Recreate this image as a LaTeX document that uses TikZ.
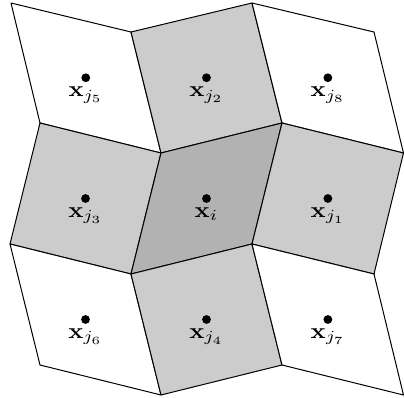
\documentclass[tikz,border=0pt]{standalone}
\usetikzlibrary{calc}
\begin{document}
\begin{tikzpicture}[x=0.5pt,y=-0.5pt,
  cellw/.style={fill=white,draw=black,line width=0.5pt,line join=round},
  cellg/.style={fill=gray!40,draw=black,line width=0.5pt,line join=round},
  celld/.style={fill=gray!60,draw=black,line width=0.5pt,line join=round},
  site/.style={circle,fill=black,inner sep=0pt,minimum size=4.4pt},
  lbl/.style={anchor=base,inner sep=0pt}]
\useasboundingbox (0,0) rectangle (404,398);
% vertices
\coordinate (a0) at (11,3);   \coordinate (a1) at (131,32);  \coordinate (a2) at (252,3);   \coordinate (a3) at (374,32);
\coordinate (b0) at (40,123); \coordinate (b1) at (161,153); \coordinate (b2) at (282,123); \coordinate (b3) at (403.5,153);
\coordinate (c0) at (10,244); \coordinate (c1) at (131,274); \coordinate (c2) at (252,244); \coordinate (c3) at (374,274);
\coordinate (d0) at (40,365); \coordinate (d1) at (161,395); \coordinate (d2) at (282,365); \coordinate (d3) at (403.5,395);
% cells
\path[cellw] (a0) -- (a1) -- (b1) -- (b0) -- cycle;
\path[cellg] (a1) -- (a2) -- (b2) -- (b1) -- cycle;
\path[cellw] (a2) -- (a3) -- (b3) -- (b2) -- cycle;
\path[cellg] (b0) -- (b1) -- (c1) -- (c0) -- cycle;
\path[celld] (b1) -- (b2) -- (c2) -- (c1) -- cycle;
\path[cellg] (b2) -- (b3) -- (c3) -- (c2) -- cycle;
\path[cellw] (c0) -- (c1) -- (d1) -- (d0) -- cycle;
\path[cellg] (c1) -- (c2) -- (d2) -- (d1) -- cycle;
\path[cellw] (c2) -- (c3) -- (d3) -- (d2) -- cycle;
% sites
\foreach \n/\p/\q/\r/\s/\t in {j5/a0/a1/b1/b0/{j_5}, j2/a1/a2/b2/b1/{j_2}, j8/a2/a3/b3/b2/{j_8},
  j3/b0/b1/c1/c0/{j_3}, i/b1/b2/c2/c1/{i}, j1/b2/b3/c3/c2/{j_1},
  j6/c0/c1/d1/d0/{j_6}, j4/c1/c2/d2/d1/{j_4}, j7/c2/c3/d3/d2/{j_7}}{
  \node[site] (s\n) at ($0.25*(\p)+0.25*(\q)+0.25*(\r)+0.25*(\s)$) {};
  \node[lbl] (l\n) at ($(s\n)+(0,19)$) {\scalebox{1.25}[1.1]{$\mathbf{x}_{\t}$}};
}
\end{tikzpicture}
\end{document}
